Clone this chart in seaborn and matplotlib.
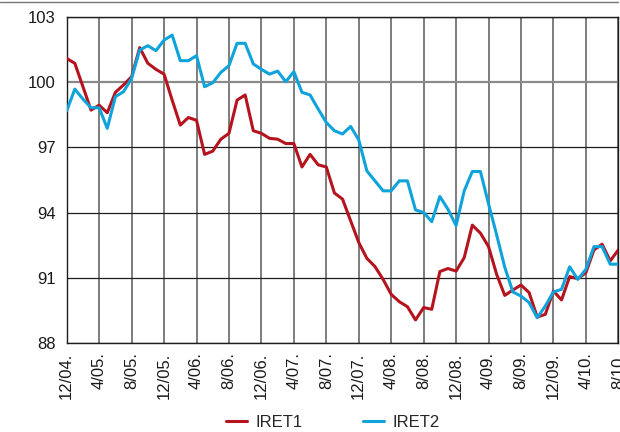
import numpy as np
import pandas as pd
import matplotlib
matplotlib.use("Agg")
import matplotlib.pyplot as plt
from matplotlib.lines import Line2D
import seaborn as sns

# ---- data ----
months = pd.date_range("2004-12-01", "2010-08-01", freq="MS")
tick_labels = ["12/04.", "4/05.", "8/05.", "12/05.", "4/06.", "8/06.", "12/06.",
               "4/07.", "8/07.", "12/07.", "4/08.", "8/08.", "12/08.", "4/09.",
               "8/09.", "12/09.", "4/10.", "8/10."]
iret1 = [101.1, 100.88, 99.8, 98.72, 98.95, 98.6, 99.54, 99.88, 100.26, 101.6,
         100.88, 100.6, 100.38, 99.18, 98.03, 98.38, 98.25,
         96.68, 96.83, 97.38, 97.65, 99.18, 99.42, 97.77, 97.65, 97.42, 97.38,
         97.18, 97.18, 96.1, 96.68, 96.2, 96.1, 94.9,
         94.62, 93.62, 92.62, 91.89, 91.51, 90.92, 90.23, 89.89, 89.66, 89.05,
         89.62, 89.54, 91.28, 91.42, 91.3, 91.92,
         93.42, 93.05, 92.43, 91.15, 90.18, 90.43, 90.66, 90.31, 89.18, 89.31,
         90.38, 89.97, 91.05, 90.95, 91.23, 92.28, 92.54, 91.77, 92.28]
iret2 = [98.69, 99.69, 99.23, 98.83, 98.83, 97.88, 99.34, 99.57, 100.18, 101.49,
         101.69, 101.46, 101.95, 102.18, 101.0, 101.0, 101.23,
         99.8, 99.98, 100.46, 100.77, 101.8, 101.8, 100.85, 100.6, 100.38, 100.52,
         100.03, 100.49, 99.54, 99.42, 98.77, 98.15, 97.77,
         97.62, 97.97, 97.35, 95.92, 95.46, 95.0, 95.0, 95.46, 95.46, 94.12,
         94.0, 93.58, 94.74, 94.15, 93.4, 95.0,
         95.89, 95.89, 94.4, 92.97, 91.48, 90.34, 90.15, 89.85, 89.15, 89.69,
         90.34, 90.46, 91.5, 90.92, 91.38, 92.43, 92.43, 91.62, 91.62]
series_names = ["IRET1", "IRET2"]
series_colors = ["#b5141e", "#0fa3dc"]
y_ticks = [88, 91, 94, 97, 100, 103]

idx = np.arange(len(months))
df = pd.DataFrame({
    "x": np.concatenate([idx, idx]),
    "value": iret1 + iret2,
    "series": [series_names[0]] * len(iret1) + [series_names[1]] * len(iret2),
})

sns.set_theme(style="white")
plt.rcParams["font.family"] = ["Liberation Sans Narrow", "Liberation Sans", "DejaVu Sans"]

fig = plt.figure(figsize=(6.2, 4.32), dpi=100)
ax = fig.add_axes([0.1076, 0.2067, 0.8897, 0.7533])

sns.lineplot(data=df, x="x", y="value", hue="series",
             palette=dict(zip(series_names, series_colors)),
             linewidth=2.2, ax=ax, legend=False, zorder=3)

ax.set_xlim(0, len(months) - 1)
ax.set_ylim(88, 103)
ax.set_xticks(np.arange(0, len(months), 4))
ax.set_xticklabels(tick_labels, rotation=90, va="top", ha="center")
ax.set_yticks(y_ticks)
ax.set_yticklabels([str(v) for v in y_ticks])
ax.tick_params(axis="both", length=0, labelsize=12, colors="#1a1a1a")
ax.tick_params(axis="x", pad=7)
ax.tick_params(axis="y", pad=8)
ax.set_xlabel("")
ax.set_ylabel("")

for xv in np.arange(0, len(months), 4):
    ax.axvline(xv, color="#5a5a5a", lw=1.1, zorder=1)
for yv in y_ticks:
    if yv == 100:
        ax.axhline(yv, color="#8a8a8a", lw=1.6, zorder=1)
    else:
        ax.axhline(yv, color="#1e1e1e", lw=0.9, zorder=1)
for s in ax.spines.values():
    s.set_color("#1e1e1e")
    s.set_linewidth(1.0)

fig.add_artist(Line2D([0.0, 0.996], [0.995, 0.995], color="#777777", lw=1.0,
                      transform=fig.transFigure))

handles = [Line2D([0], [0], color=c, lw=2.2) for c in series_colors]
fig.legend(handles, series_names, loc="center", bbox_to_anchor=(0.537, 0.022),
           ncol=2, frameon=False, fontsize=12, handlelength=1.25,
           handletextpad=0.5, columnspacing=3.65)

fig.savefig("out.png", dpi=100)
